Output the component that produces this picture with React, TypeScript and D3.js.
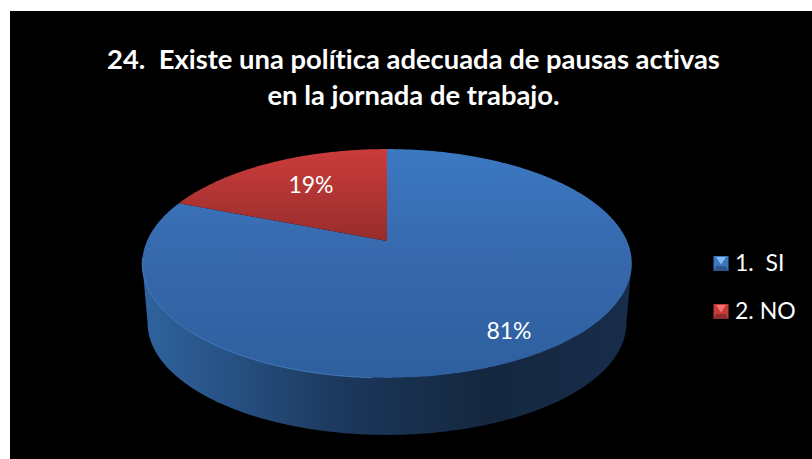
import React from "react";
import * as d3 from "d3";

const titleLines = [
  "24.  Existe una política adecuada de pausas activas",
  "en la jornada de trabajo.",
];
const categories = ["1.  SI", "2. NO"];
const shares = [81, 19];
const valueLabels = ["81%", "19%"];

const WIDTH = 812;
const HEIGHT = 459;
const FONT = "Lato, Carlito, 'Open Sans', sans-serif";

// Perspective view of the disc: the far half is foreshortened, so the centre
// of the pie sits above the middle of its outline.
const disc = { cx: 387, cy: 241, rx: 240, ry: 110, tilt: 0.1965 };
const depth = { dy: 60, shrink: 0.978 };

type Pt = [number, number];

function project(angle: number, r = 1, lower = false): Pt {
  const u = Math.sin(angle) * r;
  const v = Math.cos(angle) * r;
  const w = 1 + disc.tilt * v;
  const s = lower ? depth.shrink : 1;
  return [
    disc.cx + (disc.rx * s * u) / w,
    disc.cy + (lower ? depth.dy : 0) - (disc.ry * s * v) / w,
  ];
}

const pieLayout = d3.pie<number>().sort(null).value((d) => d);
const arcs = pieLayout(shares);
const line = d3.line<Pt>();

function sampleAngles(a0: number, a1: number): number[] {
  const n = Math.max(2, Math.ceil(Math.abs(a1 - a0) / 0.01));
  return d3.range(n + 1).map((i) => a0 + ((a1 - a0) * i) / n);
}

function wedgePath(a0: number, a1: number): string {
  const rim = sampleAngles(a0, a1).map((a) => project(a));
  return line([[disc.cx, disc.cy], ...rim]) + "Z";
}

// The visible wall runs along the near side between the two horizontal extremes.
const extreme = Math.acos(-disc.tilt);
const wallStart = extreme;
const wallEnd = 2 * Math.PI - extreme;
const wallTop = sampleAngles(wallStart, wallEnd).map((a) => project(a));
const wallBottom = sampleAngles(wallEnd, wallStart).map((a) => project(a, 1, true));
const wallPath = line([...wallTop, ...wallBottom]) + "Z";
const rimLeft = line(sampleAngles(Math.PI + 0.05, wallEnd + 0.05).map((a) => project(a)));

const sliceFills = ["url(#topBlue)", "url(#topRed)"];
const swatches = [
  { light: "#7fbdf0", mid: "#3a77bd", low: "#2a5688" },
  { light: "#f27472", mid: "#c43c3a", low: "#8a2d2b" },
];

const legendY = d3.scalePoint<string>().domain(categories).range([263.5, 311.5]);
const SW = 7.5;

export default function App() {
  return (
    <svg
      width={WIDTH}
      height={HEIGHT}
      viewBox={`0 0 ${WIDTH} ${HEIGHT}`}
      style={{ position: "absolute", left: 0, top: 0, background: "#fff" }}
    >
      <defs>
        <linearGradient id="topBlue" gradientUnits="userSpaceOnUse" x1="0" x2="0" y1="149" y2="378">
          <stop offset="0" stopColor="#3b79c2" />
          <stop offset="0.45" stopColor="#3769ae" />
          <stop offset="1" stopColor="#2e5f9e" />
        </linearGradient>
        <linearGradient id="topRed" gradientUnits="userSpaceOnUse" x1="0" x2="0" y1="149" y2="241">
          <stop offset="0" stopColor="#cb3c3b" />
          <stop offset="1" stopColor="#962d2b" />
        </linearGradient>
        <linearGradient id="wall" gradientUnits="userSpaceOnUse" x1="142" x2="632" y1="0" y2="0">
          <stop offset="0" stopColor="#2f639f" />
          <stop offset="0.2" stopColor="#264f80" />
          <stop offset="0.42" stopColor="#1b375b" />
          <stop offset="0.7" stopColor="#14273f" />
          <stop offset="1" stopColor="#182d4b" />
        </linearGradient>
      </defs>

      <rect x={10} y={11} width={WIDTH - 10} height={HEIGHT - 11} fill="#000" />

      {titleLines.map((t, i) => (
        <text
          key={t}
          x={413.5}
          y={69 + i * 36}
          textAnchor="middle"
          fill="#fff"
          fontFamily={FONT}
          fontWeight={700}
          fontSize={27.4}
          style={{ whiteSpace: "pre", fontVariantLigatures: "none" }}
        >
          {t}
        </text>
      ))}

      <path d={wallPath} fill="url(#wall)" />
      {arcs.map((a, i) => (
        <path key={categories[i]} d={wedgePath(a.startAngle, a.endAngle)} fill={sliceFills[i]} />
      ))}
      <path d={rimLeft ?? ""} fill="none" stroke="#4f8fd6" strokeOpacity={0.75} strokeWidth={1} />

      {[
        { label: valueLabels[1], x: 311, y: 193 },
        { label: valueLabels[0], x: 509, y: 339 },
      ].map((d) => (
        <text
          key={d.label}
          x={d.x}
          y={d.y}
          textAnchor="middle"
          fill="#fff"
          fontFamily={FONT}
          fontSize={23}
        >
          {d.label}
        </text>
      ))}

      {categories.map((c, i) => {
        const cy = legendY(c) ?? 0;
        const x = 721;
        const s = swatches[i];
        const poly = (pts: Pt[]) => pts.map((p) => p.join(",")).join(" ");
        return (
          <g key={c}>
            <rect x={x - SW} y={cy - SW} width={SW * 2} height={SW * 2} fill={s.mid} />
            <polygon
              points={poly([[x - SW + 2.5, cy - SW + 1], [x + SW - 2.5, cy - SW + 1], [x, cy + 1]])}
              fill={s.light}
            />
            <polygon
              points={poly([[x - SW, cy + SW], [x + SW, cy + SW], [x + SW - 3, cy + 2.5], [x - SW + 3, cy + 2.5]])}
              fill={s.low}
            />
            <text
              x={735}
              y={cy + 7.5}
              fill="#fff"
              fontFamily={FONT}
              fontSize={23}
              style={{ whiteSpace: "pre" }}
            >
              {c}
            </text>
          </g>
        );
      })}
    </svg>
  );
}
